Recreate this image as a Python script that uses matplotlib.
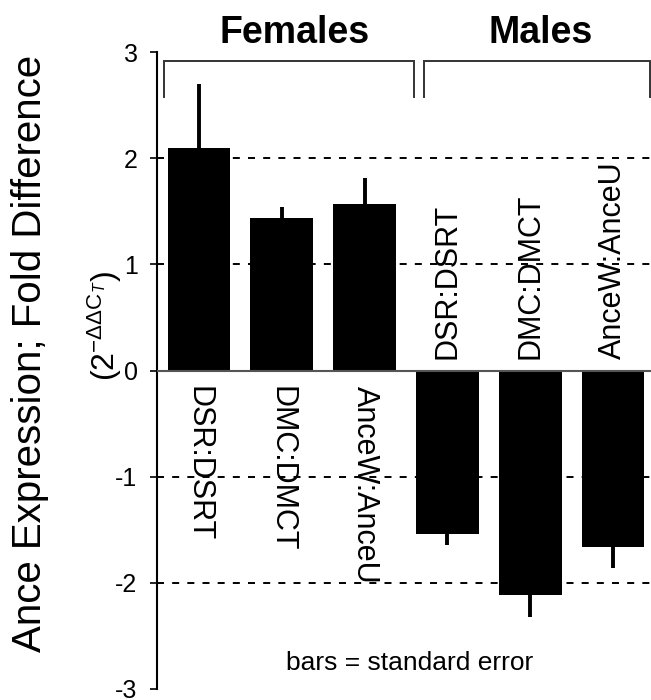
import numpy as np
import matplotlib
matplotlib.use('Agg')
import matplotlib.pyplot as plt
import matplotlib.transforms as mtrans

plt.rcParams['font.family'] = ['Liberation Sans', 'DejaVu Sans']
plt.rcParams['mathtext.fontset'] = 'custom'
plt.rcParams['mathtext.rm'] = 'Liberation Sans'
plt.rcParams['mathtext.it'] = 'Liberation Sans:italic'
plt.rcParams['mathtext.bf'] = 'Liberation Sans:bold'

# ---- data ----
categories = ['DSR:DSRT', 'DMC:DMCT', 'AnceW:AnceU', 'DSR:DSRT', 'DMC:DMCT', 'AnceW:AnceU']
group_names = ['Females', 'Males']
values = [2.10, 1.44, 1.57, -1.54, -2.11, -1.66]
errors = [0.60, 0.10, 0.24, 0.10, 0.21, 0.20]
yticks = [-3, -2, -1, 0, 1, 2, 3]
grid_levels = [-2, -1, 1, 2]

fig = plt.figure(figsize=(6.51, 7.0), dpi=100)
ax = fig.add_axes([157 / 651, 1 - 689 / 700, 1 - 157 / 651, (689 - 52) / 700])

x = np.arange(len(values))
lower = [e if v < 0 else 0 for v, e in zip(values, errors)]
upper = [e if v > 0 else 0 for v, e in zip(values, errors)]

for g in grid_levels:
    ax.axhline(g, color='black', lw=1.4, ls=(0, (3.6, 4.2)), zorder=0)

ax.errorbar(x, values, yerr=[lower, upper], fmt='none', ecolor='black',
            elinewidth=2.8, capsize=0, zorder=1)
ax.bar(x, values, width=0.76, color='black', zorder=2)
ax.axhline(0, color='#555555', lw=1.5, zorder=3)

ax.set_xlim(-0.507, 5.459)
ax.set_ylim(-3, 3)
for s in ['top', 'right', 'bottom']:
    ax.spines[s].set_visible(False)
ax.spines['left'].set_linewidth(1.5)
ax.set_xticks([])
ax.set_yticks(yticks)
ax.set_yticklabels([f'{t}' for t in yticks])
ax.tick_params(axis='y', direction='out', length=5, width=1.2, labelsize=18, pad=9)

# category labels
for i, (c, v) in enumerate(zip(categories, values)):
    if v > 0:
        ax.annotate(c, (i, 0), xytext=(0, -11), textcoords='offset points',
                    rotation=270, ha='center', va='top', fontsize=22)
    else:
        ax.annotate(c, (i, 0), xytext=(0, 8.6), textcoords='offset points',
                    rotation=90, ha='center', va='bottom', fontsize=22)

# group brackets and titles
bt = mtrans.blended_transform_factory(ax.transData, fig.transFigure)
y_top = 1 - 61 / 700
y_bot = 1 - 97 / 700
bracket_ext = [(-0.423, 2.597), (2.717, 5.447)]
title_x = [1.15, 4.13]
for name, (x0, x1), tx in zip(group_names, bracket_ext, title_x):
    ax.plot([x0, x0, x1, x1], [y_bot, y_top, y_top, y_bot], color='#333333',
            lw=1.4, transform=bt, clip_on=False, solid_joinstyle='miter')
    ax.text(tx, 1 - 43 / 700, name, transform=bt, ha='center', va='baseline',
            fontsize=27, fontweight='bold')

# y label (two lines)
fig.text(41 / 651, 1 - 353 / 700, 'Ance Expression; Fold Difference', rotation=90,
         rotation_mode='anchor', ha='center', va='baseline', fontsize=29)
fig.text(115 / 651, 1 - 326 / 700, r'(2$^{-\Delta\Delta \mathrm{C}_{T}}$)', rotation=90,
         rotation_mode='anchor', ha='center', va='baseline', fontsize=23)

fig.text(410 / 651, 1 - 670 / 700, 'bars = standard error', ha='center', va='baseline',
         fontsize=19)

fig.savefig('out.png', dpi=100)
